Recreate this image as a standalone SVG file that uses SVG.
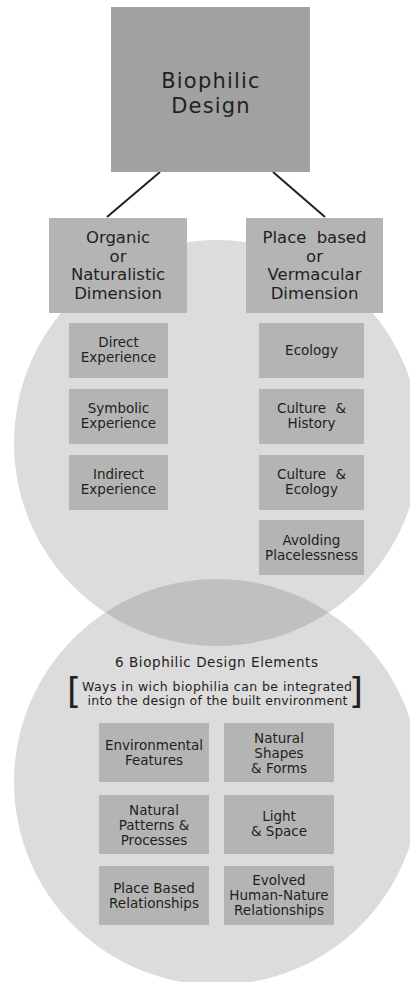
<svg xmlns="http://www.w3.org/2000/svg" width="410" height="982" viewBox="0 0 410 982">
  <style>
    text { font-family: "DejaVu Sans", "Liberation Sans", sans-serif; fill: #231f20; text-anchor: middle; }
    .t1 { font-size: 21px; letter-spacing: 1.2px; }
    .t2 { font-size: 16.5px; }
    .t3 { font-size: 13.5px; }
    .hd { font-size: 13.5px; }
    .note { font-size: 12.5px; }
    .br { font-size: 36px; text-anchor: start; }
    .wide { word-spacing: 5px; }
    .circle { fill: #dddbdb; }
    .lens { fill: #c2bfbf; }
    .top { fill: #a1a1a1; }
    .box { fill: #b4b4b4; }
    .edge { stroke: #231f20; stroke-width: 2; fill: none; }
  </style>

  <!-- background circles and their overlap -->
  <g id="circles">
    <circle class="circle" cx="217" cy="443" r="203"/>
    <circle class="circle" cx="217" cy="782" r="203"/>
    <path class="lens" d="M105.3,612.5 A203,203 0 0 1 328.7,612.5 A203,203 0 0 1 105.3,612.5 Z"/>
  </g>

  <!-- connectors -->
  <g id="connectors">
    <line class="edge" x1="160" y1="172" x2="107" y2="217"/>
    <line class="edge" x1="273" y1="172" x2="325" y2="217"/>
  </g>

  <g id="biophilic-design">
    <rect class="top" x="111" y="7" width="199" height="165"/>
    <text class="t1" x="211" y="88">Biophilic</text>
    <text class="t1" x="211" y="113">Design</text>
  </g>

  <g id="organic-dimension">
    <rect class="box" x="49" y="218" width="138" height="95"/>
    <text class="t2" x="118" y="243">Organic</text>
    <text class="t2" x="118" y="261.5">or</text>
    <text class="t2" x="118" y="280">Naturalistic</text>
    <text class="t2" x="118" y="298.5">Dimension</text>
  </g>

  <g id="place-based-dimension">
    <rect class="box" x="246" y="218" width="137" height="95"/>
    <text class="t2 wide" x="314.5" y="243">Place based</text>
    <text class="t2" x="314.5" y="261.5">or</text>
    <text class="t2" x="314.5" y="280">Vermacular</text>
    <text class="t2" x="314.5" y="298.5">Dimension</text>
  </g>

  <g id="direct-experience">
    <rect class="box" x="69" y="323" width="99" height="55"/>
    <text class="t3" x="118.5" y="347">Direct</text>
    <text class="t3" x="118.5" y="362">Experience</text>
  </g>
  <g id="symbolic-experience">
    <rect class="box" x="69" y="389" width="99" height="55"/>
    <text class="t3" x="118.5" y="413">Symbolic</text>
    <text class="t3" x="118.5" y="428">Experience</text>
  </g>
  <g id="indirect-experience">
    <rect class="box" x="69" y="455" width="99" height="55"/>
    <text class="t3" x="118.5" y="479">Indirect</text>
    <text class="t3" x="118.5" y="494">Experience</text>
  </g>

  <g id="ecology">
    <rect class="box" x="259" y="323" width="105" height="55"/>
    <text class="t3" x="311.5" y="354.5">Ecology</text>
  </g>
  <g id="culture-history">
    <rect class="box" x="259" y="389" width="105" height="55"/>
    <text class="t3 wide" x="311.5" y="413">Culture &amp;</text>
    <text class="t3" x="311.5" y="428">History</text>
  </g>
  <g id="culture-ecology">
    <rect class="box" x="259" y="455" width="105" height="55"/>
    <text class="t3 wide" x="311.5" y="479">Culture &amp;</text>
    <text class="t3" x="311.5" y="494">Ecology</text>
  </g>
  <g id="avoiding-placelessness">
    <rect class="box" x="259" y="520" width="105" height="55"/>
    <text class="t3" x="311.5" y="545">Avolding</text>
    <text class="t3" x="311.5" y="560">Placelessness</text>
  </g>

  <g id="design-elements-heading">
    <text class="hd" x="216.5" y="667" textLength="203" lengthAdjust="spacing">6 Biophilic Design Elements</text>
    <text class="br" x="67" y="703">[</text>
    <text class="note" x="217" y="691" textLength="270" lengthAdjust="spacing">Ways in wich biophilia can be integrated</text>
    <text class="note" x="217.5" y="705" textLength="260" lengthAdjust="spacing">into the design of the built environment</text>
    <text class="br" x="349" y="703">]</text>
  </g>

  <g id="environmental-features">
    <rect class="box" x="99" y="723" width="110" height="59"/>
    <text class="t3" x="154" y="749.5">Environmental</text>
    <text class="t3" x="154" y="765">Features</text>
  </g>
  <g id="natural-shapes-forms">
    <rect class="box" x="224" y="723" width="110" height="59"/>
    <text class="t3" x="279" y="742.5">Natural</text>
    <text class="t3" x="279" y="757.5">Shapes</text>
    <text class="t3" x="279" y="772.5">&amp; Forms</text>
  </g>
  <g id="natural-patterns-processes">
    <rect class="box" x="99" y="795" width="110" height="59"/>
    <text class="t3" x="154" y="814.5">Natural</text>
    <text class="t3" x="154" y="829.5">Patterns &amp;</text>
    <text class="t3" x="154" y="844.5">Processes</text>
  </g>
  <g id="light-space">
    <rect class="box" x="224" y="795" width="110" height="59"/>
    <text class="t3" x="279" y="820.5">Light</text>
    <text class="t3" x="279" y="836">&amp; Space</text>
  </g>
  <g id="place-based-relationships">
    <rect class="box" x="99" y="866" width="110" height="59"/>
    <text class="t3" x="154" y="892.5">Place Based</text>
    <text class="t3" x="154" y="907.5">Relationships</text>
  </g>
  <g id="human-nature-relationships">
    <rect class="box" x="224" y="866" width="110" height="59"/>
    <text class="t3" x="279" y="884.5">Evolved</text>
    <text class="t3" x="279" y="899.5">Human-Nature</text>
    <text class="t3" x="279" y="914.5">Relationships</text>
  </g>
</svg>
